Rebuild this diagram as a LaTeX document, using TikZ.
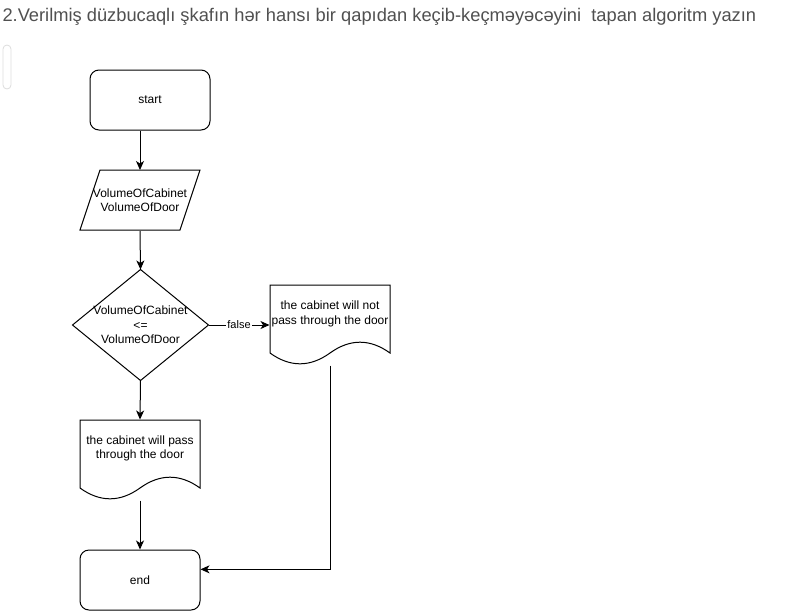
\documentclass[tikz,border=0pt]{standalone}
\usepackage{fontspec}
\setmainfont{Liberation Sans}
\usetikzlibrary{arrows.meta}
\definecolor{titlegray}{RGB}{80,80,80}
\definecolor{scrollgray}{RGB}{220,220,220}
\begin{document}
\begin{tikzpicture}[x=1pt,y=-1pt,line width=1pt,
  txt/.style={font=\fontsize{12}{14.4}\selectfont,align=center,inner sep=0pt},
  term/.style={draw,rounded corners=9pt,minimum width=120pt,minimum height=60pt,inner sep=0pt,font=\fontsize{12}{14.4}\selectfont},
  arr/.style={-{Stealth[length=9pt,width=8pt,inset=2.5pt]}},
  edgelbl/.style={fill=white,inner sep=1pt,font=\fontsize{11}{13}\selectfont}]
\useasboundingbox (0,0) rectangle (811,611);
% title
\node[anchor=west,text=titlegray,font=\fontsize{18.3}{22}\selectfont,inner sep=0pt] (title) at (2,17)
  {2.Verilmiş düzbucaqlı şkafın hər hansı bir qapıdan keçib-keçməyəcəyini\ \ tapan algoritm yazın};
\node[draw=scrollgray,rounded corners=4pt,minimum width=8pt,minimum height=44pt,inner sep=0pt,line width=0.8pt] (scroll) at (7,67) {};
% start
\node[term] (start) at (150,100) {start};
% input parallelogram
\node[txt,minimum width=120pt,minimum height=60pt] (input) at (140,200.5) {VolumeOfCabinet\\VolumeOfDoor};
\draw (100,170) -- (200,170) -- (180,230) -- (80,230) -- cycle;
% decision
\node[txt,minimum width=135pt,minimum height=110pt] (dec) at (140.5,325) {VolumeOfCabinet\\{<=}\\VolumeOfDoor};
\draw (dec.north) -- (dec.east) -- (dec.south) -- (dec.west) -- cycle;
% no document
\node[txt,minimum width=120pt,minimum height=80pt] (no) at (330,325) {};
\node[txt] (notxt) at (330,314) {the cabinet will not\\pass through the door};
\draw (270,285) -- (390,285) -- (390,353)
  .. controls (370,338.6) and (350,338.6) .. (330,353)
  .. controls (310,367.4) and (290,367.4) .. (270,353) -- cycle;
% yes document
\node[txt,minimum width=120pt,minimum height=80pt] (yes) at (140,460) {};
\node[txt] (yestxt) at (140,448.5) {the cabinet will pass\\through the door};
\draw (80,420) -- (200,420) -- (200,488)
  .. controls (180,473.6) and (160,473.6) .. (140,488)
  .. controls (120,502.4) and (100,502.4) .. (80,488) -- cycle;
% end
\node[term] (end) at (140,580) {end};
% connectors
\draw[arr] (start.south -| input.north) -- (input.north);
\draw[arr] (input.south) -- (dec.north);
\draw[arr] (dec.east) -- node[edgelbl] (f) {false} (no.west);
\draw[arr] (dec.south) -- (yes.north);
\draw[arr] (yes.south) -- (end.north);
\draw[arr] (no.south) |- (end.10);
\end{tikzpicture}
\end{document}
